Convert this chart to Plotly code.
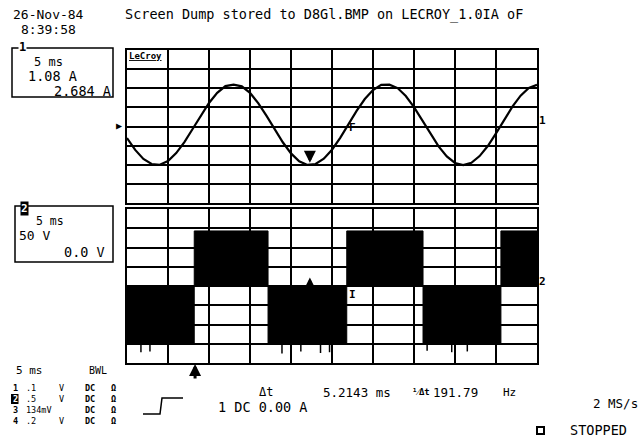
import plotly.graph_objects as go

W, H = 642, 445

t_ms = list(range(51))
current_A = [-0.65, -1.32, -1.83, -2.12, -2.16, -1.95, -1.50, -0.88, -0.14, 0.63,
             1.33, 1.90, 2.28, 2.36, 2.27, 1.90, 1.32, 0.61, -0.16, -0.89,
             -1.52, -1.96, -2.17, -2.12, -1.82, -1.31, -0.64, 0.12, 0.88, 1.55,
             2.06, 2.35, 2.36, 2.17, 1.72, 1.09, 0.35, -0.41, -1.12, -1.69,
             -2.06, -2.18, -2.05, -1.67, -1.10, -0.39, 0.38, 1.12, 1.74, 2.18, 2.36]

edge_ms = [0, 8.2, 17.2, 26.8, 36.1, 45.6, 50]
level_V = [-148, 143, -148, 143, -148, 143, 143]

spike_ms = [1.7, 2.8, 18.9, 20.0, 21.2, 23.6, 24.7, 36.6, 39.6, 41.5]
spike_V = [-172, -170, -175, -172, -170, -174, -172, -168, -172, -170]

cursor_ms = [22.3, 27.5]
trigger_ms = 8.3

x_div_ms = 5
y1_div_A = 1.08
y2_div_V = 50

chan_num = ["1", "2", "3", "4"]
chan_scale = [".1", ".5", "134mV", ".2"]
chan_unit = ["V", "V", "", "V"]

FONT = "DejaVu Sans Mono"


def px(x):
    return x / W


def py(y):
    return 1 - y / H


fig = go.Figure()

# upper trace: current
fig.add_trace(go.Scatter(x=t_ms, y=current_A, mode="lines",
                         line=dict(color="black", width=2.2),
                         xaxis="x", yaxis="y", hoverinfo="skip"))

# lower trace: PWM voltage envelope blocks
fig.add_trace(go.Scatter(x=edge_ms, y=level_V, mode="lines",
                         line=dict(color="black", width=1, shape="hv"),
                         fill="tozeroy", fillcolor="black",
                         xaxis="x2", yaxis="y2", hoverinfo="skip"))

# spikes hanging below the negative blocks
sx, sy = [], []
for t, v in zip(spike_ms, spike_V):
    sx += [t, t, None]
    sy += [-148, v, None]
fig.add_trace(go.Scatter(x=sx, y=sy, mode="lines",
                         line=dict(color="black", width=1.5),
                         xaxis="x2", yaxis="y2", hoverinfo="skip"))

ax_common = dict(showgrid=True, gridcolor="black", gridwidth=1.6,
                 showticklabels=False, ticks="", zeroline=False,
                 showline=True, mirror=True, linecolor="black", linewidth=2,
                 fixedrange=True)

fig.update_layout(
    width=W, height=H,
    margin=dict(l=0, r=0, t=0, b=0),
    paper_bgcolor="white", plot_bgcolor="white",
    showlegend=False,
    xaxis=dict(domain=[px(127), px(537)], range=[0, 10 * x_div_ms], dtick=x_div_ms,
               anchor="y", **ax_common),
    yaxis=dict(domain=[py(203), py(50)], range=[-4 * y1_div_A, 4 * y1_div_A],
               tick0=0, dtick=y1_div_A, anchor="x", **ax_common),
    xaxis2=dict(domain=[px(127), px(537)], range=[0, 10 * x_div_ms], dtick=x_div_ms,
                anchor="y2", **ax_common),
    yaxis2=dict(domain=[py(363), py(209)], range=[-4 * y2_div_V, 4 * y2_div_V],
                tick0=0, dtick=y2_div_V, anchor="x2", **ax_common),
)

anns = []


def txt(s, x, y, size=13, anchor="left", color="black", bg=None, bold=False):
    d = dict(text=("<b>%s</b>" % s) if bold else s, x=px(x), y=py(y),
             xref="paper", yref="paper", xanchor=anchor, yanchor="middle",
             showarrow=False, font=dict(family=FONT, size=size, color=color),
             borderpad=0, align="left")
    if bg:
        d["bgcolor"] = bg
    anns.append(d)


txt("26-Nov-84", 12, 15, 13)
txt("8:39:58", 20, 30, 13)
txt("Screen Dump stored to D8Gl.BMP on LECROY_1.0IA oF", 124, 15, 13.5)

# channel 1 box
txt("5 ms", 33, 62, 12)
txt("1.08 A", 27, 76, 13.5)
txt("2.684 A", 53, 91, 13.5)
txt("1", 18, 47, 12, bg="white", bold=True)

# channel 2 box
txt("5 ms", 35, 220.5, 11.5)
txt("50 V", 18, 235.5, 13)
txt("0.0 V", 63, 252, 13.5)
txt("2", 20, 208, 11, color="white", bg="black", bold=True)

# LeCroy label
txt("<u>LeCroy</u>", 128, 56, 9, bold=True)

# bottom-left table (one text block per column)
TY = 404.5
TS = 8.5
txt("5 ms", 15, 370, 11)
txt("BWL", 88, 370, 10)
num_lines = []
for n in chan_num:
    if n == "2":
        num_lines.append("<span style='color:white'>%s</span>" % n)
    else:
        num_lines.append(n)
txt("<br>".join(num_lines), 12, TY, TS, bold=True)
txt("<br>".join(chan_scale), 25, TY, TS)
txt("<br>".join(u if u else " " for u in chan_unit), 58, TY, TS)
txt("<br>".join("DC" for _ in chan_num), 84, TY, TS, bold=True)
txt("<br>".join("Ω" for _ in chan_num), 110, TY, TS, bold=True)

txt("1 DC 0.00 A", 217, 407, 13.5)
txt("Δt", 258, 392, 12)
txt("5.2143 ms", 322, 392, 12.5)
txt("¹⁄Δt", 411, 392, 9, bold=True)
txt("191.79", 432, 392, 12.5)
txt("Hz", 502, 392, 11)
txt("2 MS/s", 592, 403, 12.5)
txt("STOPPED", 569, 430, 13.5)

# channel markers right side
txt("1", 538, 120, 11, bold=True)
txt("2", 538, 281, 11, bold=True)
txt("▶", 115, 125, 10)

# cursors
anns.append(dict(x=cursor_ms[0], y=-2.05, xref="x", yref="y", ax=0, ay=-13,
                 showarrow=True, arrowhead=2, arrowsize=0.8, arrowwidth=3,
                 arrowcolor="black", text=""))
anns.append(dict(x=cursor_ms[0], y=22, xref="x2", yref="y2", ax=0, ay=12,
                 showarrow=True, arrowhead=2, arrowsize=0.8, arrowwidth=3,
                 arrowcolor="black", text=""))
anns.append(dict(x=cursor_ms[1], y=-0.05, xref="x", yref="y",
                 text="<b>F</b>", showarrow=False,
                 font=dict(family=FONT, size=11, color="black")))
anns.append(dict(x=cursor_ms[1], y=-22, xref="x2", yref="y2",
                 text="<b>I</b>", showarrow=False,
                 font=dict(family=FONT, size=11, color="black")))
# trigger arrow below lower grid
anns.append(dict(x=trigger_ms, y=py(364), xref="x2", yref="paper", ax=0, ay=16,
                 showarrow=True, arrowhead=2, arrowsize=0.8, arrowwidth=3,
                 arrowcolor="black", text=""))

fig.update_layout(annotations=anns)

row_h = TS * 1.3
row2_y = TY - 1.5 * row_h + row_h  # centre of second row
shapes = [
    dict(type="rect", xref="paper", yref="paper", x0=px(12), x1=px(113),
         y0=py(97), y1=py(48), line=dict(color="black", width=1.5)),
    dict(type="rect", xref="paper", yref="paper", x0=px(15), x1=px(113),
         y0=py(262), y1=py(206), line=dict(color="black", width=1.5)),
    dict(type="rect", xref="paper", yref="paper", x0=px(11), x1=px(18.5),
         y0=py(row2_y + 5), y1=py(row2_y - 5), fillcolor="black",
         line=dict(width=0), layer="below"),
    dict(type="path", xref="paper", yref="paper",
         path="M %f,%f L %f,%f L %f,%f L %f,%f" % (px(143), py(414), px(160), py(414),
                                                  px(162), py(398), px(183), py(398)),
         line=dict(color="black", width=1.5)),
    dict(type="rect", xref="paper", yref="paper", x0=px(537), x1=px(544),
         y0=py(434), y1=py(427), line=dict(color="black", width=2)),
]
fig.update_layout(shapes=shapes)

fig.write_html("out.html")
